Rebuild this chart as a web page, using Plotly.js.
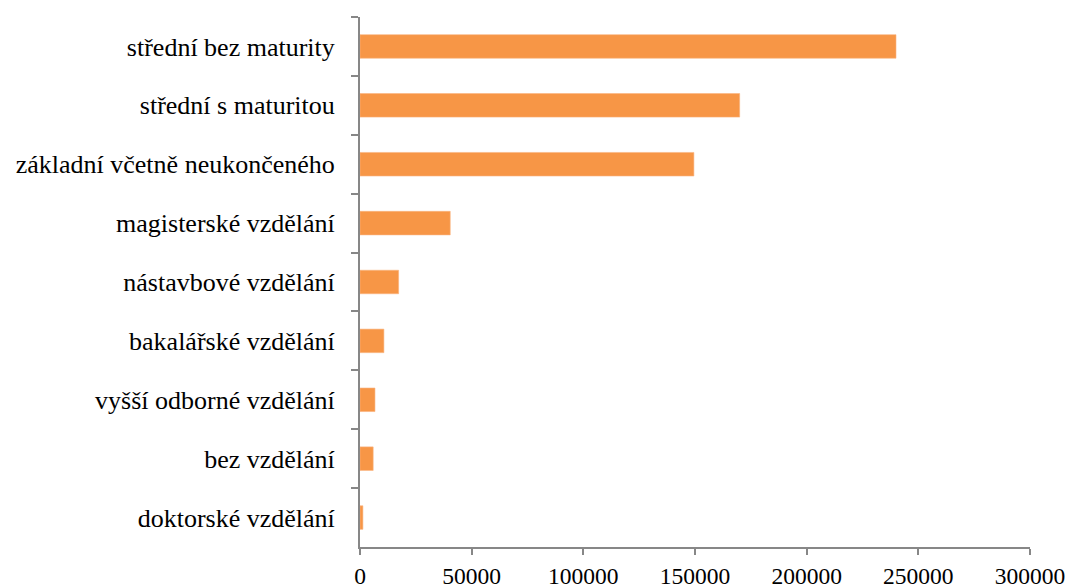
<!DOCTYPE html>
<html>
<head>
<meta charset="utf-8">
<script src="https://cdn.plot.ly/plotly-3.0.1.min.js"></script>
<style>html,body{margin:0;padding:0;background:#fff;}</style>
</head>
<body>
<div id="chart" style="width:1070px;height:588px;"></div>
<script>
var categories = [
  "střední bez maturity",
  "střední s maturitou",
  "základní včetně neukončeného",
  "magisterské vzdělání",
  "nástavbové vzdělání",
  "bakalářské vzdělání",
  "vyšší odborné vzdělání",
  "bez vzdělání",
  "doktorské vzdělání"
];
var values = [240000, 170000, 149500, 40400, 17300, 10700, 6700, 5900, 1300];
var xTicks = [0, 50000, 100000, 150000, 200000, 250000, 300000];

var trace = {
  type: "bar",
  orientation: "h",
  y: categories,
  x: values,
  marker: {color: "#F79646", line: {color: "#FAB47F", width: 0.6}},
  hoverinfo: "x+y"
};

var layout = {
  width: 1070,
  height: 588,
  margin: {l: 360, r: 40, t: 17, b: 41},
  paper_bgcolor: "#ffffff",
  plot_bgcolor: "#ffffff",
  showlegend: false,
  bargap: 0.6,
  font: {family: "Liberation Serif, Times New Roman, serif", size: 23.5, color: "#000"},
  xaxis: {
    range: [0, 300000],
    tickvals: xTicks,
    ticktext: xTicks.map(String),
    tickfont: {size: 23.5},
    showgrid: false,
    zeroline: false,
    showline: true,
    linecolor: "#878787",
    linewidth: 2,
    ticks: "outside",
    ticklen: 6,
    tickwidth: 2,
    tickcolor: "#878787",
    ticklabelstandoff: 1,
    fixedrange: true
  },
  yaxis: {
    autorange: "reversed",
    type: "category",
    tickfont: {size: 26},
    showgrid: false,
    zeroline: false,
    showline: true,
    linecolor: "#878787",
    linewidth: 2,
    ticks: "outside",
    tickson: "boundaries",
    ticklen: 7,
    tickwidth: 2,
    tickcolor: "#878787",
    ticklabelstandoff: 18,
    fixedrange: true
  }
};

Plotly.newPlot("chart", [trace], layout, {displayModeBar: false, staticPlot: true});
</script>
</body>
</html>
